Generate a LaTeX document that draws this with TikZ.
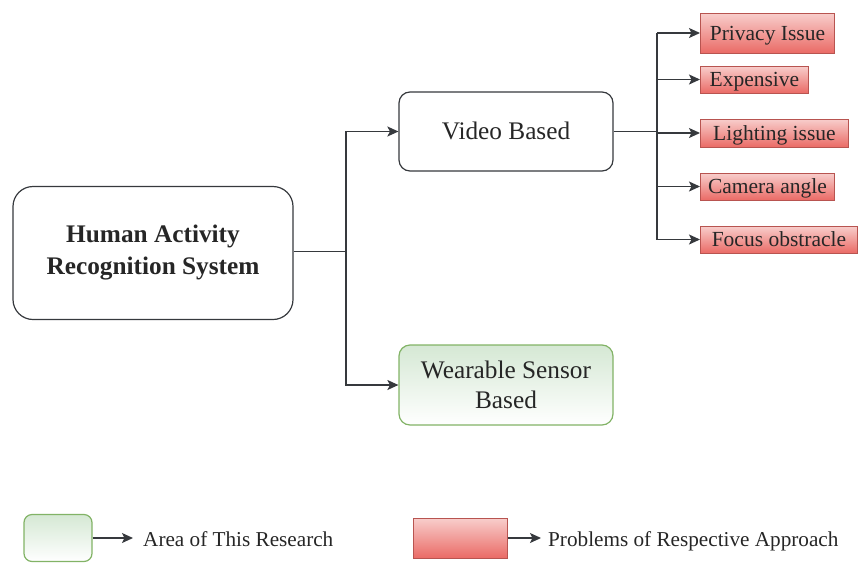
\documentclass[tikz,border=0pt]{standalone}
\usepackage{fontspec}
\setmainfont{Liberation Serif}
\usetikzlibrary{arrows.meta}

\definecolor{boxline}{HTML}{36393D}
\definecolor{greenfill}{HTML}{D5E8D4}
\definecolor{greenline}{HTML}{82B366}
\definecolor{redtop}{HTML}{F8CECC}
\definecolor{redbottom}{HTML}{EA6B66}
\definecolor{redline}{HTML}{B85450}

\begin{document}
\begin{tikzpicture}[x=1pt,y=-1pt,
  mainbox/.style={draw=boxline, line width=1.2pt, rounded corners=11pt, inner sep=0pt,
    minimum width=214pt, minimum height=79pt, align=center, text=black!85,
    font=\fontsize{25.3}{30}\selectfont},
  areabox/.style={mainbox, draw=greenline, top color=greenfill, bottom color=white},
  issuebox/.style={draw=redline, line width=0.9pt, top color=redtop, bottom color=redbottom,
    inner sep=0pt, anchor=west, text=black!85, text height=14.2pt, text depth=0pt,
    font=\fontsize{21.5}{25}\selectfont},
  keytext/.style={anchor=west, inner sep=0pt, text=black!85, text height=14pt,
    text depth=0pt, font=\fontsize{21.2}{25}\selectfont},
  wire/.style={draw=boxline, line width=1.3pt},
  link/.style={wire, -{Stealth[length=11pt,width=10pt,inset=2.5pt]}}]
\useasboundingbox (0,0) rectangle (858,562);

% main chart
\node[mainbox, minimum width=280pt, minimum height=133pt, rounded corners=20pt,
  font=\fontsize{25.3}{32}\selectfont\bfseries] (har) at (153,253)
  {Human Activity\\Recognition System};
\node[mainbox, text height=16.7pt, text depth=0pt] (video) at (506,131.5) {Video Based};
\node[areabox, minimum height=80pt] (wear) at (506,385) {Wearable Sensor\\Based};

\coordinate (split) at (346,251.5);
\draw[wire] (split -| har.east) -- (split);
\draw[link] (split) |- (video.west);
\draw[link] (split) |- (wear.west);

% problems of the video approach
\node[issuebox, minimum width=134pt, minimum height=40pt] (privacy) at (700,33) {Privacy Issue};
\node[issuebox, minimum width=108pt, minimum height=27pt] (expensive) at (700,79.5) {Expensive};
\node[issuebox, minimum width=148pt, minimum height=28pt] (lighting) at (700,133) {Lighting issue};
\node[issuebox, minimum width=134pt, minimum height=27pt] (camera) at (700,186.5) {Camera angle};
\node[issuebox, minimum width=157pt, minimum height=27pt] (focus) at (700,239.5) {Focus obstracle};

\coordinate (fork) at (657,131.5);
\draw[wire] (video.east) -- (fork);
\draw[wire] (fork |- privacy.west) -- (fork |- focus.west);
\foreach \p in {privacy,expensive,lighting,camera,focus}
  \draw[link] (fork |- \p.west) -- (\p.west);

% legend
\node[areabox, minimum width=68pt, minimum height=47pt, rounded corners=8pt] (keyarea) at (58,538) {};
\coordinate (keyareatip) at (133,538);
\node[keytext] (keyareatext) at (143,539) {Area of This Research};
\draw[link] (keyarea.east) -- (keyareatip);
\node[issuebox, minimum width=94pt, minimum height=40pt] (keyissue) at (413,538) {};
\coordinate (keyissuetip) at (541,538);
\node[keytext] (keyissuetext) at (548,539) {Problems of Respective Approach};
\draw[link] (keyissue.east) -- (keyissuetip);
\end{tikzpicture}
\end{document}
